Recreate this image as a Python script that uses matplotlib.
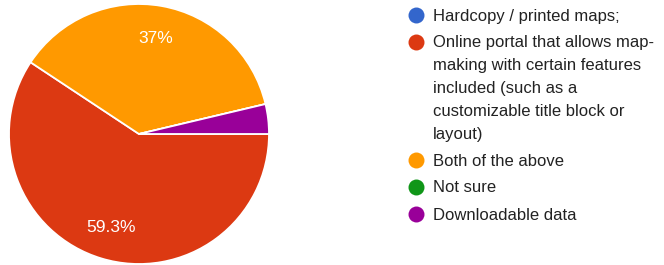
import matplotlib
matplotlib.use("Agg")
import matplotlib.pyplot as plt

labels = [["Hardcopy / printed maps;"],
          ["Online portal that allows map-", "making with certain features",
           "included (such as a", "customizable title block or", "layout)"],
          ["Both of the above"],
          ["Not sure"],
          ["Downloadable data"]]
values = [0.0, 59.3, 37.0, 0.0, 3.7]
colors = ["#3366cc", "#dc3912", "#ff9900", "#109618", "#990099"]

plt.rcParams['font.family'] = ['Liberation Sans', 'DejaVu Sans']

W, H = 664, 265
fig = plt.figure(figsize=(W/100, H/100), dpi=100)

ax = fig.add_axes([9/W, 1/H, 260/W, 260/H])
def fmt(p):
    return "" if p < 5 else ("%g%%" % round(p, 1))
wedges, texts, autotexts = ax.pie(values, colors=colors, startangle=0, counterclock=False,
       autopct=fmt, pctdistance=0.75, radius=1,
       wedgeprops=dict(edgecolor="white", linewidth=1.3),
       textprops=dict(color="white", fontsize=12.5))
ax.set_xlim(-1, 1); ax.set_ylim(-1, 1)
ax.set_aspect('equal')
ax.axis('off')

lax = fig.add_axes([0, 0, 1, 1])
lax.set_xlim(0, W); lax.set_ylim(H, 0)
lax.axis('off')
line_h = 22.75
item_gap = 27
y = 14.5
for lines, c in zip(labels, colors):
    lax.plot([416], [y], 'o', color=c, markersize=11.5, markeredgewidth=0)
    for i, ln in enumerate(lines):
        lax.text(433, y + 6 + i * line_h, ln, fontsize=12, color="#222222",
                 va='baseline', ha='left')
    y += (len(lines) - 1) * line_h + item_gap

fig.savefig("out.png", dpi=100)
